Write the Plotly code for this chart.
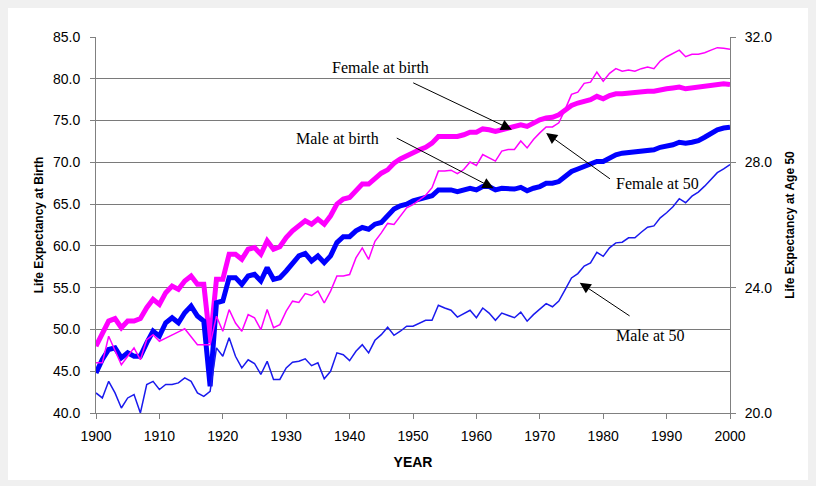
import plotly.graph_objects as go

years = list(range(1900, 2001))

male_birth = [44.8, 46.4, 47.6, 47.8, 46.6, 47.2, 46.8, 46.8, 48.4, 49.8,
              49.2, 50.8, 51.4, 50.8, 52.0, 52.8, 51.6, 51.0, 43.2, 53.2,
              53.4, 56.2, 56.2, 55.4, 56.4, 56.6, 55.8, 57.4, 56.0, 56.2,
              57.0, 57.8, 58.8, 59.1, 58.2, 58.8, 58.0, 58.8, 60.4, 61.1,
              61.1, 61.8, 62.2, 62.0, 62.6, 62.8, 63.6, 64.4, 64.8, 65.0,
              65.4, 65.6, 65.7, 66.0, 66.7, 66.7, 66.7, 66.5, 66.7, 66.9,
              66.7, 67.1, 67.1, 66.7, 66.9, 66.9, 66.8, 67.0, 66.6, 66.9,
              67.1, 67.5, 67.5, 67.7, 68.3, 68.9, 69.2, 69.5, 69.8, 70.1,
              70.1, 70.5, 70.9, 71.1, 71.2, 71.2, 71.3, 71.5, 71.5, 71.8,
              71.9, 72.1, 72.4, 72.3, 72.4, 72.6, 73.0, 73.5, 73.9, 74.1,
              74.2]

female_birth = [48.0, 49.6, 51.0, 51.3, 50.2, 51.0, 51.0, 51.3, 52.6, 53.6,
                53.0, 54.4, 55.2, 54.8, 55.8, 56.4, 55.4, 55.4, 48.4, 56.0,
                56.0, 59.0, 59.0, 58.4, 59.6, 59.8, 59.0, 60.6, 59.6, 59.9,
                61.0, 61.8, 62.4, 63.0, 62.6, 63.2, 62.6, 63.6, 65.0, 65.6,
                65.8, 66.6, 67.4, 67.4, 68.1, 68.7, 69.1, 69.9, 70.4, 70.8,
                71.2, 71.5, 71.8, 72.3, 73.1, 73.1, 73.2, 73.1, 73.3, 73.6,
                73.6, 74.0, 73.9, 73.7, 73.9, 74.1, 74.2, 74.5, 74.3, 74.7,
                75.1, 75.3, 75.4, 75.7, 76.3, 76.8, 77.1, 77.3, 77.5, 77.9,
                77.6, 78.0, 78.2, 78.2, 78.3, 78.3, 78.4, 78.5, 78.5, 78.7,
                78.8, 78.9, 79.0, 78.8, 78.9, 79.0, 79.0, 79.2, 79.3, 79.4,
                79.3]

female_50 = [21.60, 21.60, 22.45, 21.97, 21.54, 21.81, 22.08, 21.70, 22.34, 22.50,
             22.29, 22.39, 22.50, 22.59, 22.69, 22.45, 22.18, 22.18, 22.18, 23.09,
             22.61, 23.30, 22.87, 22.61, 23.14, 23.04, 22.66, 23.30, 22.72, 22.82,
             23.25, 23.57, 23.53, 23.81, 23.75, 23.89, 23.51, 23.89, 24.37, 24.37,
             24.42, 24.95, 25.27, 24.90, 25.48, 25.75, 26.05, 26.02, 26.28, 26.55,
             26.65, 26.81, 26.95, 27.19, 27.72, 27.72, 27.75, 27.64, 27.77, 28.01,
             27.90, 28.25, 28.14, 28.04, 28.36, 28.41, 28.41, 28.68, 28.46, 28.73,
             28.94, 29.13, 29.13, 29.26, 29.69, 30.17, 30.24, 30.52, 30.56, 30.88,
             30.59, 30.84, 30.99, 30.91, 30.95, 30.91, 30.99, 31.04, 30.99, 31.23,
             31.37, 31.48, 31.58, 31.37, 31.45, 31.45, 31.50, 31.58, 31.66, 31.64,
             31.61]

male_50 = [20.64, 20.48, 21.01, 20.64, 20.16, 20.48, 20.59, 20.00, 20.91, 21.01,
           20.75, 20.91, 20.91, 20.96, 21.12, 21.01, 20.64, 20.53, 20.69, 22.08,
           21.81, 22.40, 21.81, 21.44, 21.70, 21.58, 21.23, 21.65, 21.07, 21.07,
           21.44, 21.62, 21.65, 21.73, 21.51, 21.60, 21.09, 21.33, 21.92, 21.86,
           21.67, 21.97, 22.18, 21.92, 22.32, 22.50, 22.74, 22.48, 22.61, 22.77,
           22.77, 22.87, 22.96, 22.96, 23.44, 23.35, 23.28, 23.06, 23.17, 23.28,
           23.04, 23.35, 23.19, 22.96, 23.19, 23.11, 23.04, 23.22, 22.93, 23.14,
           23.30, 23.49, 23.39, 23.57, 23.94, 24.31, 24.45, 24.69, 24.79, 25.13,
           25.00, 25.27, 25.43, 25.45, 25.59, 25.59, 25.77, 25.93, 25.97, 26.23,
           26.39, 26.58, 26.84, 26.71, 26.92, 27.05, 27.24, 27.47, 27.67, 27.79,
           27.93]

x_ticks = list(range(1900, 2001, 10))

# labels: (text, text_x, text_y, arrow_tail_x, arrow_tail_y, tip_x, tip_y)
labels = [
    ("Female at birth", 1944.9, 81.4, 1949.8, 79.6, 1965.6, 73.9),
    ("Male at birth", 1938.1, 72.9, 1947.2, 73.0, 1962.7, 66.9),
    ("Female at 50", 1988.6, 67.5, 1981.3, 67.9, 1971.0, 73.5),
    ("Male at 50", 1987.4, 49.3, 1984.4, 51.5, 1976.3, 55.6),
]

fig = go.Figure()
fig.add_trace(go.Scatter(x=years, y=female_50, yaxis="y2", mode="lines",
                         line=dict(color="#FF00FF", width=1.5), name="Female at 50"))
fig.add_trace(go.Scatter(x=years, y=male_50, yaxis="y2", mode="lines",
                         line=dict(color="#1a1aee", width=1.5), name="Male at 50"))
fig.add_trace(go.Scatter(x=years, y=female_birth, mode="lines",
                         line=dict(color="#FF00FF", width=5), name="Female at birth"))
fig.add_trace(go.Scatter(x=years, y=male_birth, mode="lines",
                         line=dict(color="#0000FF", width=5), name="Male at birth"))

annotations = []
for text, tx, ty, axx, ayy, px, py in labels:
    annotations.append(dict(x=tx, y=ty, xref="x", yref="y", text=text, showarrow=False,
                            font=dict(family="Liberation Serif", size=16, color="black")))
    annotations.append(dict(x=px, y=py, xref="x", yref="y", ax=axx, ay=ayy,
                            axref="x", ayref="y", text="", showarrow=True,
                            arrowhead=2, arrowsize=2.2, arrowwidth=1, arrowcolor="black",
                            standoff=0, startstandoff=0))

fig.update_layout(
    width=800, height=472,
    paper_bgcolor="white", plot_bgcolor="white",
    margin=dict(l=88, r=78, t=29, b=67, pad=0),
    showlegend=False,
    font=dict(family="Liberation Sans", size=14, color="black"),
    xaxis=dict(range=[1900, 2000], tickvals=x_ticks, ticks="outside", ticklen=5,
               tickcolor="#808080", showline=True, linecolor="#808080", linewidth=1,
               showgrid=False, zeroline=False, ticklabelstandoff=5,
               title=dict(text="<b>YEAR</b>", font=dict(size=14), standoff=14),
               tickfont=dict(size=14)),
    yaxis=dict(range=[40, 85], dtick=5, tickformat=".1f", ticks="outside", ticklen=5,
               tickcolor="#808080", showline=True, linecolor="#808080", linewidth=1,
               showgrid=True, gridcolor="#7a7a7a", gridwidth=1, zeroline=False,
               ticklabelstandoff=7,
               title=dict(text="<b>Life Expectancy at Birth</b>", font=dict(size=12), standoff=6),
               tickfont=dict(size=14)),
    yaxis2=dict(range=[20, 32], dtick=4, tickformat=".1f", overlaying="y", side="right",
                ticks="outside", ticklen=5, tickcolor="#808080", showline=True,
                linecolor="#808080", linewidth=1, showgrid=False, zeroline=False,
                ticklabelstandoff=6,
                title=dict(text="<b>Life Expectancy at Age 50</b>", font=dict(size=12), standoff=14),
                tickfont=dict(size=14)),
    annotations=annotations,
)

fig.write_html("out.html",
               post_script="document.body.style.backgroundColor='#f0f0f0';")
